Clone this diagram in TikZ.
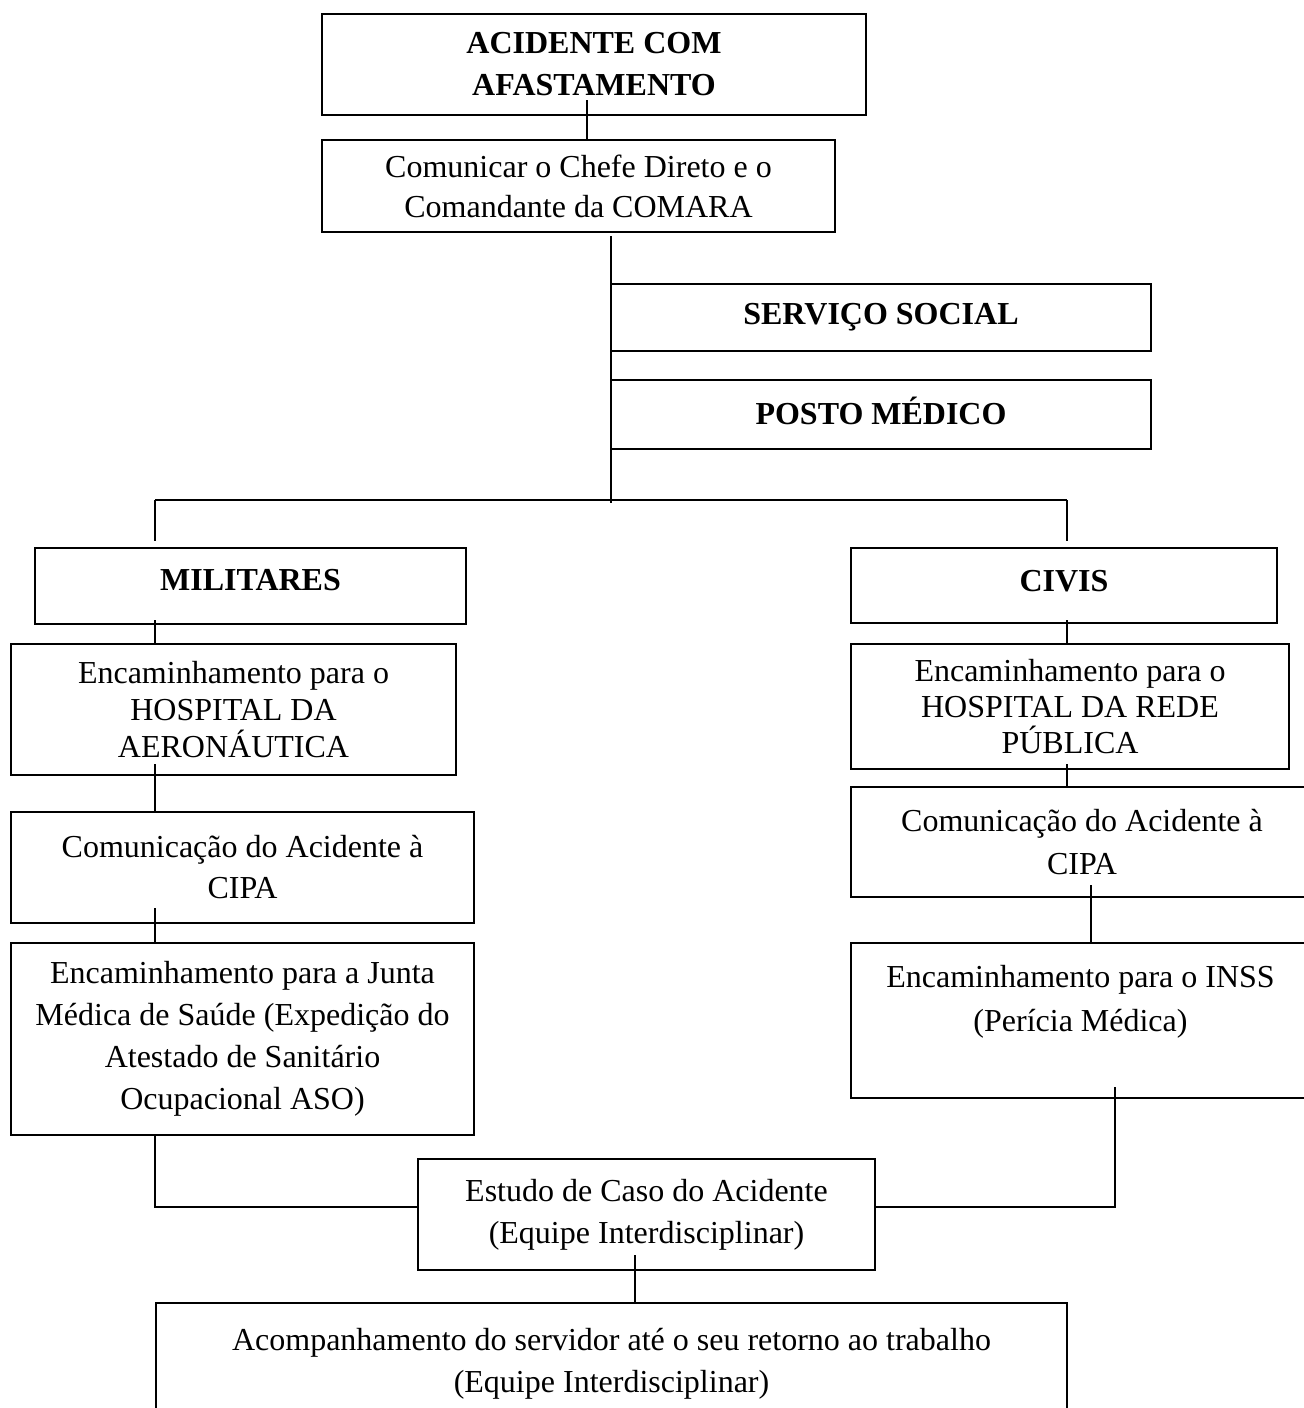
\documentclass[tikz,border=0pt]{standalone}
\usepackage{fontspec}
\setmainfont{Liberation Serif}
\usetikzlibrary{calc}
\begin{document}
\begin{tikzpicture}[x=0.5pt,y=-0.5pt,
  box/.style={draw, line width=1.1pt, rectangle, inner sep=0pt, align=center,
    font=\fontsize{16pt}{20pt}\selectfont},
  bbox/.style={box, font=\bfseries\fontsize{16pt}{21pt}\selectfont},
  conn/.style={line width=1pt}]
\useasboundingbox (0,0) rectangle (1304,1408);
\clip (0,0) rectangle (1304,1408);

% boxes
\node[bbox, minimum width=272pt, minimum height=50.5pt] (acc) at (594,64.5) {ACIDENTE COM\\AFASTAMENTO};
\node[box, minimum width=256.5pt, minimum height=46pt] (com) at (578.5,186) {Comunicar o Chefe Direto e o\\Comandante da COMARA};
\node[bbox, minimum width=270pt, minimum height=33.5pt] (ss) at (881,317.5) {SERVIÇO SOCIAL};
\node[bbox, minimum width=270pt, minimum height=34.5pt, text depth=4pt] (pm) at (881,414.5) {POSTO MÉDICO};
\node[bbox, minimum width=215.5pt, minimum height=38pt, text depth=6pt] (mil) at (250.5,586) {MILITARES};
\node[bbox, minimum width=213pt, minimum height=37.5pt, text depth=5pt] (civ) at (1064,585.5) {CIVIS};
\node[box, minimum width=222.5pt, minimum height=65.5pt, font=\fontsize{16pt}{18.5pt}\selectfont] (hae) at (233.5,709.5) {Encaminhamento para o\\HOSPITAL DA\\AERONÁUTICA};
\node[box, minimum width=219pt, minimum height=62.5pt, font=\fontsize{16pt}{18pt}\selectfont] (hrp) at (1070,706.5) {Encaminhamento para o\\HOSPITAL DA REDE\\PÚBLICA};
\node[box, minimum width=231.5pt, minimum height=55.5pt, font=\fontsize{16pt}{20.5pt}\selectfont] (cipl) at (242.5,867.5) {Comunicação do Acidente à\\CIPA};
\node[box, minimum width=231pt, minimum height=55pt, font=\fontsize{16pt}{21.5pt}\selectfont] (cipr) at (1082,842) {Comunicação do Acidente à\\CIPA};
\node[box, minimum width=231.5pt, minimum height=96pt, font=\fontsize{16pt}{21pt}\selectfont] (junta) at (242.5,1039) {Encaminhamento para a Junta\\Médica de Saúde (Expedição do\\Atestado de Sanitário\\Ocupacional ASO)};
\node[box, minimum width=229.5pt, minimum height=77.5pt, font=\fontsize{16pt}{22pt}\selectfont] (inss) at (1080.5,1020.5) {Encaminhamento para o INSS\\(Perícia Médica)\\\mbox{}};
\node[box, minimum width=228.5pt, minimum height=55.5pt, font=\fontsize{16pt}{21pt}\selectfont] (est) at (646.5,1214.5) {Estudo de Caso do Acidente\\(Equipe Interdisciplinar)};
\node[box, minimum width=455.5pt, minimum height=61pt, font=\fontsize{16pt}{21pt}\selectfont] (acomp) at (611.5,1364) {Acompanhamento do servidor até o seu retorno ao trabalho\\(Equipe Interdisciplinar)};

% connectors
\coordinate (c1) at (587,100);
\draw[conn] (c1) -- (c1 |- com.north);
\coordinate (c2) at (611,236);
\coordinate (barL) at (155,500);
\coordinate (barR) at (1067,500);
\draw[conn] (c2) -- ($(c2 |- barL)+(0,3)$);
\draw[conn] (barL) -- (barR);
\draw[conn] (barL) -- ($(barL |- mil.north)+(0,-6)$);
\draw[conn] (barR) -- ($(barR |- civ.north)+(0,-6)$);
\coordinate (m1) at (155,620);
\draw[conn] (m1) -- (m1 |- hae.north);
\coordinate (m2) at (155,764);
\draw[conn] (m2) -- (m2 |- cipl.north);
\coordinate (m3) at (155,908);
\draw[conn] (m3) -- (m3 |- junta.north);
\coordinate (m4) at (155,1207);
\draw[conn] (m4 |- junta.south) -- (m4) -- (m4 -| est.west);
\coordinate (r1) at (1067,620);
\draw[conn] (r1) -- (r1 |- hrp.north);
\coordinate (r2) at (1067,764);
\draw[conn] (r2) -- (r2 |- cipr.north);
\coordinate (r3) at (1091,885);
\draw[conn] (r3) -- (r3 |- inss.north);
\coordinate (r4) at (1115,1087);
\coordinate (r5) at (1115,1207);
\draw[conn] (r4) -- (r5) -- (r5 -| est.east);
\coordinate (e1) at (635,1255);
\draw[conn] (e1) -- (e1 |- acomp.north);
\end{tikzpicture}
\end{document}
